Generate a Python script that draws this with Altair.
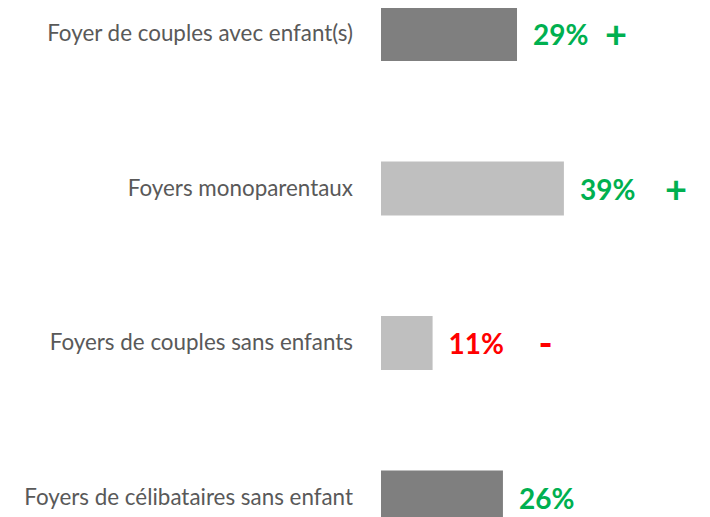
import altair as alt
import pandas as pd

categories = [
    "Foyer de couples avec enfant(s)",
    "Foyers monoparentaux",
    "Foyers de couples sans enfants",
    "Foyers de célibataires sans enfant",
]
values = [29, 39, 11, 26]
bar_colors = ["#7f7f7f", "#bfbfbf", "#bfbfbf", "#7f7f7f"]
text_colors = ["#00b050", "#00b050", "#ff0000", "#00b050"]
signs = ["+", "+", "-", ""]
sign_pos = [50.1, 62.9, 35.1, 0]

df = pd.DataFrame({
    "idx": list(range(len(categories))),
    "cat": categories,
    "value": values,
    "label": [f"{v}%" for v in values],
    "bar_color": bar_colors,
    "text_color": text_colors,
    "sign": signs,
    "sign_pos": sign_pos,
    "zero": [0] * len(categories),
})

x_scale = alt.Scale(domain=[0, 320 / 4.69], nice=False, zero=True, padding=0)
y_scale = alt.Scale(domain=[-26 / 154.5, (509 - 26) / 154.5], reverse=True,
                    nice=False, zero=False, padding=0)

base = alt.Chart(df)
x_axis = alt.X("value:Q", scale=x_scale, axis=None)
y_enc = alt.Y("idx:Q", scale=y_scale, axis=None)

bars = base.mark_bar(orient="horizontal", size=54).encode(
    x=x_axis,
    y=y_enc,
    color=alt.Color("bar_color:N", scale=None),
)

cat_labels = base.mark_text(
    align="right", baseline="middle", dx=-28, font="Lato", fontSize=22.4, color="#595959"
).encode(
    x=alt.X("zero:Q", scale=x_scale, axis=None),
    y=y_enc,
    text="cat:N",
)

pct = base.mark_text(
    align="left", baseline="middle", dx=16, dy=3, font="Lato", fontSize=28, fontWeight="bold"
).encode(
    x=x_axis,
    y=y_enc,
    text="label:N",
    color=alt.Color("text_color:N", scale=None),
)

sgn = base.mark_text(
    align="center", baseline="middle", dy=3, font="Lato", fontSize=38, fontWeight="bold"
).encode(
    x=alt.X("sign_pos:Q", scale=x_scale, axis=None),
    y=y_enc,
    text="sign:N",
    color=alt.Color("text_color:N", scale=None),
)

chart = alt.layer(bars, cat_labels, pct, sgn).properties(
    width=320,
    height=509,
    background="white",
    autosize=alt.AutoSizeParams(type="none"),
    padding={"left": 373, "top": 0, "right": 0, "bottom": 0},
).configure_view(stroke=None)

chart.save("out.html", embed_options={"renderer": "svg", "actions": False})
